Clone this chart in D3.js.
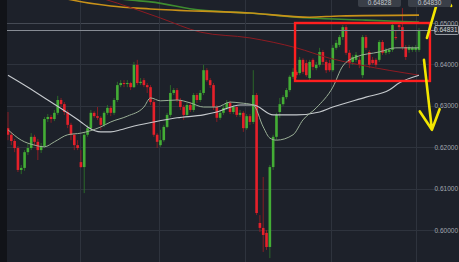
<!DOCTYPE html>
<html>
<head>
<meta charset="utf-8">
<script src="https://cdn.jsdelivr.net/npm/d3@7"></script>
<style>
  body { margin: 0; background: #1d212a; overflow: hidden; }
  svg { display: block; }
</style>
</head>
<body>
<script>
// OHLC, one entry per candle
const opens = [.6246,.6230,.6215,.6198,.6145,.6150,.6188,.6198,.6225,.6213,.6193,.6203,.6268,.6273,.6268,.6283,.6314,.6304,.6285,.6254,
  .6230,.6205,.6164,.6152,.6230,.6246,.6283,.6275,.6271,.6254,.6283,.6295,.6283,.6314,.6350,.6355,.6353,.6355,.6345,.6399,
  .6355,.6362,.6350,.6345,.6309,.6230,.6205,.6217,.6249,.6278,.6331,.6338,.6314,.6297,.6278,.6302,.6290,.6326,.6314,.6331,
  .6386,.6362,.6350,.6297,.6271,.6283,.6295,.6307,.6285,.6297,.6278,.6283,.6246,.6275,.6261,.6326,.6017,.6005,.5993,.5959,
  .6152,.6225,.6285,.6304,.6321,.6338,.6370,.6382,.6379,.6411,.6403,.6367,.6411,.6391,.6399,.6430,.6406,.6403,.6386,.6440,
  .6447,.6466,.6490,.6428,.6406,.6411,.6411,.6374,.6466,.6430,.6411,.6411,.6411,.6454,.6428,.6430,.6435,.6466,.6495,.6490,
  .6442,.6435,.6435,.6435,.6435];
const highs = [.6285,.6237,.6220,.6203,.6157,.6193,.6208,.6234,.6230,.6220,.6210,.6273,.6280,.6278,.6290,.6324,.6319,.6309,.6290,.6259,
  .6234,.6217,.6193,.6237,.6254,.6290,.6287,.6297,.6275,.6287,.6302,.6300,.6319,.6358,.6362,.6362,.6362,.6358,.6406,.6411,
  .6367,.6367,.6355,.6350,.6314,.6234,.6242,.6254,.6283,.6350,.6343,.6343,.6319,.6302,.6307,.6309,.6331,.6331,.6338,.6399,
  .6391,.6367,.6355,.6302,.6290,.6302,.6314,.6312,.6302,.6302,.6290,.6287,.6280,.6280,.6386,.6331,.6036,.6128,.6000,.6157,
  .6230,.6283,.6319,.6326,.6343,.6374,.6391,.6386,.6418,.6415,.6411,.6411,.6415,.6406,.6440,.6435,.6411,.6411,.6447,.6459,
  .6471,.6495,.6495,.6435,.6423,.6430,.6418,.6471,.6471,.6435,.6418,.6415,.6459,.6459,.6440,.6440,.6500,.6483,.6502,.6536,
  .6447,.6447,.6444,.6447,.6488];
const lows = [.6217,.6205,.6188,.6140,.6135,.6143,.6181,.6193,.6203,.6169,.6186,.6198,.6261,.6259,.6263,.6278,.6297,.6278,.6246,.6217,
  .6193,.6193,.6150,.6089,.6225,.6242,.6271,.6266,.6242,.6249,.6278,.6275,.6278,.6309,.6345,.6345,.6345,.6338,.6343,.6350,
  .6350,.6345,.6331,.6302,.6225,.6198,.6201,.6213,.6246,.6273,.6326,.6309,.6290,.6266,.6273,.6285,.6285,.6307,.6309,.6326,
  .6358,.6343,.6290,.6261,.6266,.6278,.6290,.6280,.6280,.6273,.6273,.6237,.6242,.6254,.6256,.6036,.5995,.5947,.5952,.5932,
  .6145,.6217,.6271,.6300,.6316,.6333,.6365,.6367,.6374,.6377,.6370,.6362,.6386,.6386,.6394,.6399,.6379,.6382,.6382,.6435,
  .6442,.6459,.6423,.6391,.6399,.6406,.6391,.6367,.6435,.6391,.6399,.6394,.6406,.6423,.6423,.6425,.6430,.6459,.6483,.6435,
  .6411,.6428,.6430,.6430,.6430];
const closes = [.6230,.6215,.6198,.6145,.6150,.6188,.6198,.6225,.6213,.6193,.6203,.6268,.6273,.6268,.6283,.6314,.6304,.6285,.6254,.6230,
  .6205,.6198,.6152,.6230,.6246,.6283,.6275,.6271,.6254,.6283,.6295,.6283,.6314,.6350,.6355,.6353,.6355,.6345,.6399,.6355,
  .6358,.6350,.6345,.6309,.6230,.6213,.6217,.6249,.6278,.6331,.6338,.6314,.6297,.6278,.6302,.6290,.6326,.6314,.6331,.6386,
  .6362,.6350,.6297,.6271,.6283,.6295,.6307,.6285,.6297,.6278,.6283,.6246,.6275,.6261,.6326,.6041,.6005,.5988,.5959,.6152,
  .6225,.6278,.6304,.6321,.6338,.6370,.6382,.6374,.6411,.6382,.6374,.6406,.6394,.6399,.6430,.6406,.6386,.6386,.6440,.6452,
  .6466,.6490,.6428,.6403,.6418,.6423,.6399,.6466,.6440,.6399,.6403,.6399,.6454,.6428,.6435,.6435,.6495,.6464,.6490,.6442,
  .6418,.6442,.6440,.6440,.6483];

// moving averages, read as [candle index, price]
const maFast = [[0,.6242],[4,.6217],[8,.6205],[11,.6201],[14,.6213],[18,.6230],[22,.6234],[28,.6249],[31,.6261],[36,.6275],
  [41,.6297],[43,.6319],[46,.6312],[51,.6314],[55,.6307],[59,.6297],[63,.6297],[67,.6309],[70,.6307],[74,.6302],[77,.6249],
  [79,.6222],[81,.6217],[86,.6230],[89,.6266],[93,.6295],[98,.6345],[101,.6396],[105,.6418],[112,.6430],[117,.6440],[124,.6440]];
const maSlow = [[0,.6374],[6,.6345],[12,.6314],[18,.6283],[22,.6261],[24,.6249],[28,.6237],[31,.6237],[34,.6242],[37,.6249],
  [44,.6261],[51,.6271],[59,.6278],[63,.6285],[70,.6302],[74,.6302],[80,.6278],[87,.6278],[94,.6285],[98,.6297],[108,.6321],
  [115,.6338],[118,.6355],[124,.6374]];
const maRed = [[24,.6570],[33,.6548],[46,.6512],[58,.6478],[73,.6464],[87,.6440],[97,.6415],[106,.6399],[124,.6374]];
const maOrange = [[10,.6574],[19,.6556],[31,.6541],[43,.6534],[73,.6524],[91,.6514],[100,.6517],[124,.6519]];
const maGreen = [[25,.6570],[36,.6556],[43,.6551],[58,.6531],[73,.6524],[91,.6512],[108,.6507],[124,.6502]];

const priceTicks = [0.60, 0.61, 0.62, 0.63, 0.64, 0.65];
const timeGrid = [21.7, 45.5, 71.5, 97.4, 123.1];
const lastPrice = 0.64831;
const topTags = ["0.64828", "0.64830"];

// annotations drawn on the chart, in [candle index, price]
const boxCorners = [[86.6, 0.6500], [127.3, 0.6360]];
const arrowUp = [[126.4, 0.6464], [130.6, 0.6580]];
const arrowDown = [[125.5, 0.6411], [127.9, 0.6242]];

const W = 459, H = 262;
const svg = d3.select("body").append("svg").attr("width", W).attr("height", H);

svg.append("rect").attr("width", W).attr("height", H).attr("fill", "#1d212a");
svg.append("rect").attr("width", 7).attr("height", H).attr("fill", "#111318");

const x = d3.scaleLinear().domain([0, 124]).range([8, 419]);
const y = d3.scaleLinear().domain([0.60, 0.65]).range([230, 23]);

svg.append("clipPath").attr("id", "plot")
  .append("rect").attr("x", 7).attr("y", 0).attr("width", 430).attr("height", H);

// grid
svg.append("g").selectAll("line").data(priceTicks).join("line")
  .attr("x1", 7).attr("x2", 437)
  .attr("y1", (d) => Math.round(y(d)) + 0.5).attr("y2", (d) => Math.round(y(d)) + 0.5)
  .attr("stroke", (d) => d === 0.65 ? "#454a54" : "#2e333d").attr("stroke-width", 1);
svg.append("g").selectAll("line").data(timeGrid).join("line")
  .attr("x1", (d) => Math.round(x(d)) + 0.5).attr("x2", (d) => Math.round(x(d)) + 0.5)
  .attr("y1", 0).attr("y2", H)
  .attr("stroke", "#2e333d");

// candles
const candles = opens.map((o, i) => ({ i, o, h: highs[i], l: lows[i], c: closes[i] }));
const up = "#43ad35", down = "#e5202a";
const cg = svg.append("g").attr("clip-path", "url(#plot)");
cg.selectAll(".wick").data(candles).join("line")
  .attr("class", "wick")
  .attr("x1", (d) => x(d.i)).attr("x2", (d) => x(d.i))
  .attr("y1", (d) => y(d.h)).attr("y2", (d) => y(d.l))
  .attr("stroke", (d) => d.c >= d.o ? "#2f7a28" : "#a31c22")
  .attr("stroke-width", 0.8);
cg.selectAll(".body").data(candles).join("rect")
  .attr("class", "body")
  .attr("x", (d) => x(d.i) - 1.3).attr("width", 2.6)
  .attr("y", (d) => y(Math.max(d.o, d.c)))
  .attr("height", (d) => Math.max(1, Math.abs(y(d.o) - y(d.c))))
  .attr("fill", (d) => d.c >= d.o ? up : down);

// moving averages
const line = d3.line().x((d) => x(d[0])).y((d) => y(d[1])).curve(d3.curveMonotoneX);
const mg = svg.append("g").attr("clip-path", "url(#plot)").attr("fill", "none");
mg.append("path").attr("d", line(maGreen)).attr("stroke", "#3e8c2f").attr("stroke-width", 1.6);
mg.append("path").attr("d", line(maOrange)).attr("stroke", "#c99219").attr("stroke-width", 1.6);
mg.append("path").attr("d", line(maRed)).attr("stroke", "#8e1b22").attr("stroke-width", 1);
mg.append("path").attr("d", line(maSlow)).attr("stroke", "#c5c9cd").attr("stroke-width", 1.1);
mg.append("path").attr("d", line(maFast)).attr("stroke", "#9bb097").attr("stroke-width", 1);

// last price line
svg.append("line")
  .attr("x1", 7).attr("x2", 436)
  .attr("y1", Math.round(y(lastPrice)) + 0.5).attr("y2", Math.round(y(lastPrice)) + 0.5)
  .attr("stroke", "#878c94").attr("stroke-width", 1);

// red box
svg.append("rect")
  .attr("x", x(boxCorners[0][0])).attr("y", y(boxCorners[0][1]))
  .attr("width", x(boxCorners[1][0]) - x(boxCorners[0][0]))
  .attr("height", y(boxCorners[1][1]) - y(boxCorners[0][1]))
  .attr("fill", "none").attr("stroke", "#ff1f1f").attr("stroke-width", 2.4);

// yellow arrows
const drawArrow = (pts, len, spread) => {
  const [x0, y0] = [x(pts[0][0]), y(pts[0][1])];
  const [x1, y1] = [x(pts[1][0]), y(pts[1][1])];
  const a = Math.atan2(y0 - y1, x0 - x1);
  const w1 = [x1 + len * Math.cos(a + spread), y1 + len * Math.sin(a + spread)];
  const w2 = [x1 + len * Math.cos(a - spread), y1 + len * Math.sin(a - spread)];
  svg.append("path")
    .attr("d", `M${x0},${y0}L${x1},${y1}M${w1[0]},${w1[1]}L${x1},${y1}L${w2[0]},${w2[1]}`)
    .attr("fill", "none").attr("stroke", "#f3e600").attr("stroke-width", 2.6)
    .attr("stroke-linecap", "round").attr("stroke-linejoin", "round");
};
drawArrow(arrowUp, 19, 0.85);
drawArrow(arrowDown, 22, 0.47);

// right axis labels
svg.append("g").selectAll("text").data(priceTicks).join("text")
  .attr("x", 458).attr("y", (d) => y(d) + 2.5)
  .attr("text-anchor", "end")
  .style("font-family", "Liberation Sans, Arial, sans-serif")
  .style("font-size", "6.5px")
  .attr("fill", "#a3a8b0")
  .text((d) => d.toFixed(5));

// last price tag
const tag = svg.append("g").attr("transform", `translate(435, ${y(lastPrice) - 4.5})`);
tag.append("rect").attr("width", 23.5).attr("height", 9).attr("rx", 1)
  .attr("fill", "#262a33").attr("stroke", "#b9bdc3").attr("stroke-width", 0.8);
tag.append("text").attr("x", 22.5).attr("y", 6.6).attr("text-anchor", "end")
  .style("font-family", "Liberation Sans, Arial, sans-serif").style("font-size", "6.5px")
  .attr("fill", "#d5d8dc").text(lastPrice.toFixed(5));

// tags peeking in at the top
const tg = svg.append("g").selectAll("g").data(topTags).join("g")
  .attr("transform", (d, i) => `translate(${358 + i * 50}, -5)`);
tg.append("rect").attr("width", 43).attr("height", 12).attr("rx", 2).attr("fill", "#3a3f48");
tg.append("text").attr("x", 21.5).attr("y", 9.5).attr("text-anchor", "middle")
  .style("font-family", "Liberation Sans, Arial, sans-serif").style("font-size", "6.5px")
  .attr("fill", "#c4c8ce").text((d) => d);
</script>
</body>
</html>
